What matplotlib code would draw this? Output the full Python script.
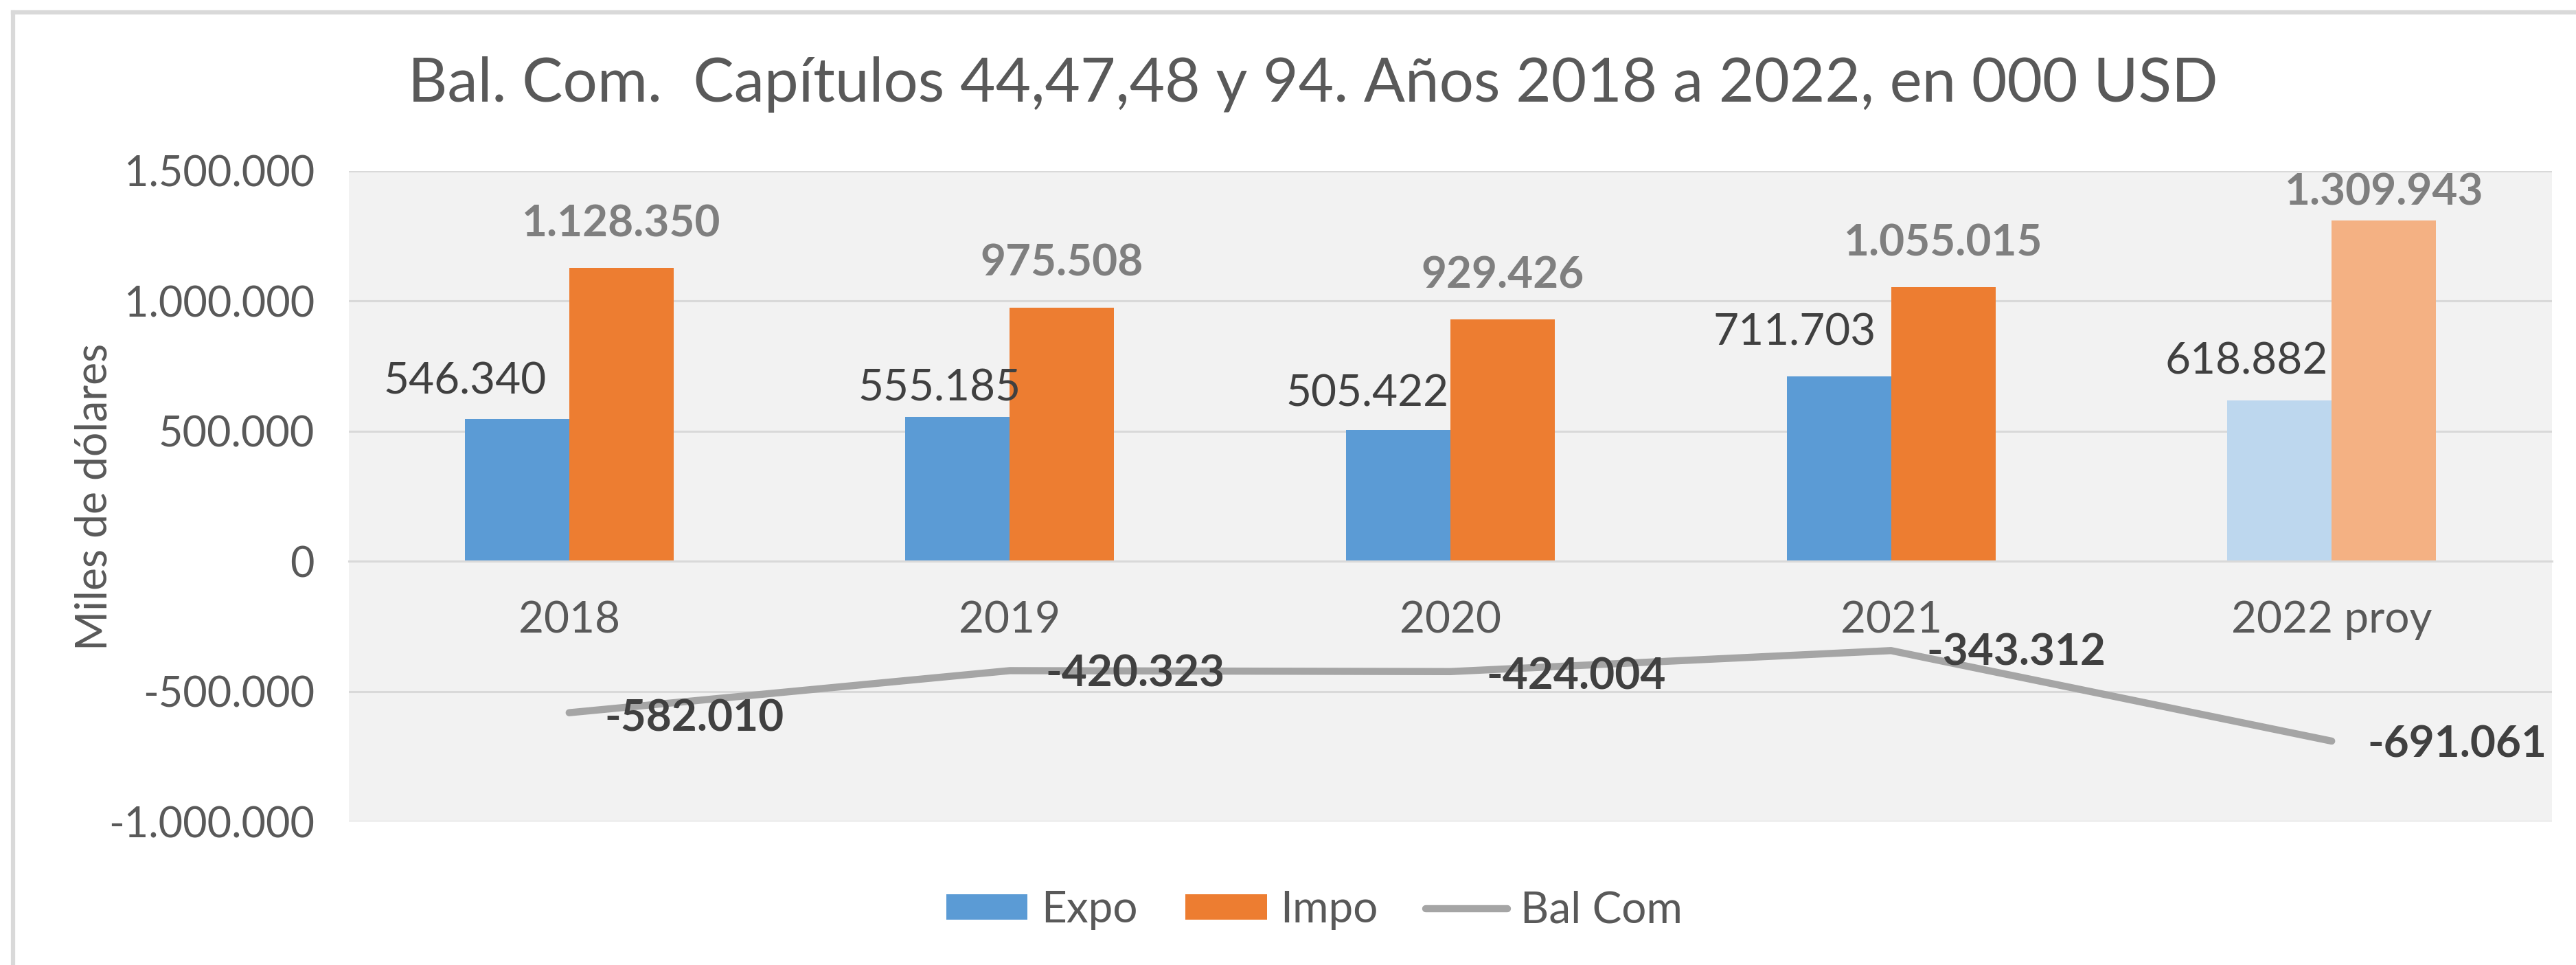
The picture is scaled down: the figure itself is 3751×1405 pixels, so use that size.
import matplotlib
matplotlib.use("Agg")
import matplotlib.pyplot as plt
from matplotlib.lines import Line2D
from matplotlib.patches import Patch
import numpy as np

# ---- data ----
categories = ["2018", "2019", "2020", "2021", "2022 proy"]
expo = [546340, 555185, 505422, 711703, 618882]
impo = [1128350, 975508, 929426, 1055015, 1309943]
bal_com = [-582010, -420323, -424004, -343312, -691061]
yticks = [-1000000, -500000, 0, 500000, 1000000, 1500000]

title = "Bal. Com.  Capítulos 44,47,48 y 94. Años 2018 a 2022, en 000 USD"
ylabel = "Miles de dólares"
series_names = ["Expo", "Impo", "Bal Com"]

# ---- style ----
FONT = ["Lato", "DejaVu Sans"]
plt.rcParams["font.family"] = FONT
C_EXPO = "#5B9BD5"
C_IMPO = "#ED7D31"
C_EXPO_P = "#BDD7EE"
C_IMPO_P = "#F4B183"
C_LINE = "#A5A5A5"
C_GRID = "#D9D9D9"
C_TXT = "#595959"

W, H, DPI = 3751, 1405, 100
fig = plt.figure(figsize=(W / DPI, H / DPI), dpi=DPI)
fig.patch.set_facecolor("white")

L, R, T, B = 508, 3716, 249, 1196
ax = fig.add_axes([L / W, 1 - B / H, (R - L) / W, (B - T) / H])
ax.set_facecolor("#F2F2F2")

x = np.arange(len(categories))
bw = 0.237
expo_colors = [C_EXPO] * 4 + [C_EXPO_P]
impo_colors = [C_IMPO] * 4 + [C_IMPO_P]
ax.bar(x - bw / 2, expo, width=bw, color=expo_colors, zorder=2)
ax.bar(x + bw / 2, impo, width=bw, color=impo_colors, zorder=2)
ax.plot(x, bal_com, color=C_LINE, lw=7.5, solid_capstyle="round",
        solid_joinstyle="round", zorder=3)

ax.set_xlim(-0.5, len(categories) - 0.5)
ax.set_ylim(yticks[0], yticks[-1])
ax.set_yticks(yticks)
ax.set_yticklabels([f"{v:,}".replace(",", ".") for v in yticks])
ax.grid(axis="y", color=C_GRID, lw=2.2, zorder=1)
ax.grid(axis="x", visible=False)
for s in ["left", "right", "top"]:
    ax.spines[s].set_visible(False)
ax.spines["bottom"].set_position(("data", 0))
ax.spines["bottom"].set_color(C_GRID)
ax.spines["bottom"].set_linewidth(2.2)
ax.set_xticks(x)
ax.set_xticklabels(categories)
ax.tick_params(axis="x", length=0, pad=41, labelsize=46, labelcolor=C_TXT)
ax.tick_params(axis="y", length=0, pad=36, labelsize=44, labelcolor=C_TXT)

fmt = lambda v: f"{v:,}".replace(",", ".")
px = 0.72  # points per pixel at 100 dpi

# Expo labels (right-aligned near group center, above bar)
expo_dx = [-33, 16, -2, -22, -5]
expo_dy = [55, 41, 52, 63, 56]
for i, v in enumerate(expo):
    ax.annotate(fmt(v), xy=(x[i], v), xytext=(expo_dx[i] * px, expo_dy[i] * px),
                textcoords="offset points", ha="right", va="center",
                fontsize=46, color="#404040", zorder=4)

# Impo labels (bold, centered above orange bar)
impo_dy = [64, 65, 64, 64, 41]
for i, v in enumerate(impo):
    ax.annotate(fmt(v), xy=(x[i] + bw / 2, v), xytext=(0, impo_dy[i] * px),
                textcoords="offset points", ha="center", va="center",
                fontsize=46, fontweight="bold", color="#7F7F7F", zorder=4)

# Bal Com labels (bold, right of point)
bal_dy = [-8, -5, -7, -3, -5]
for i, v in enumerate(bal_com):
    ax.annotate(fmt(v), xy=(x[i], v), xytext=(52 * px, bal_dy[i] * px),
                textcoords="offset points", ha="left", va="center",
                fontsize=46, fontweight="bold", color="#404040", zorder=4)

# Title and y label
fig.text(1912 / W, 1 - 123 / H, title, ha="center", va="center",
         fontsize=64, color=C_TXT)
fig.text(137 / W, 1 - 723 / H, ylabel, ha="center", va="center",
         rotation=90, fontsize=45, color=C_TXT)

# Legend
handles = [Patch(facecolor=C_EXPO), Patch(facecolor=C_IMPO),
           Line2D([0], [0], color=C_LINE, lw=7.5, solid_capstyle="round")]
fig.legend(handles, series_names, loc="center", bbox_to_anchor=(1914 / W, 1 - 1325 / H),
           ncol=3, frameon=False, fontsize=46, labelcolor=C_TXT,
           handlelength=1.86, handleheight=0.5, handletextpad=0.31,
           columnspacing=1.08)

# Chart border (top and left visible)
fig.add_artist(Line2D([19 / W, 1], [1 - 18 / H, 1 - 18 / H], color=C_GRID, lw=4.5,
                      transform=fig.transFigure))
fig.add_artist(Line2D([19 / W, 19 / W], [0, 1 - 18 / H], color=C_GRID, lw=4.5,
                      transform=fig.transFigure))

fig.savefig("out.png", dpi=DPI, facecolor="white")
